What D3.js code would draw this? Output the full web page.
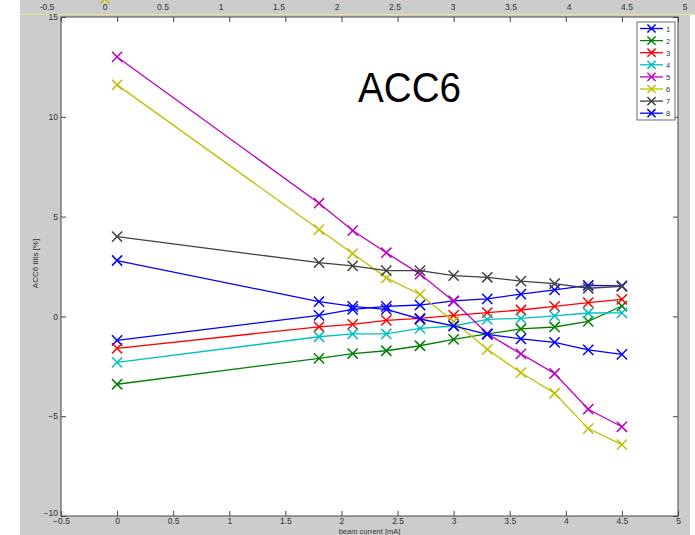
<!DOCTYPE html>
<html>
<head>
<meta charset="utf-8">
<script src="https://cdn.jsdelivr.net/npm/d3@7"></script>
<style>
  html, body { margin: 0; padding: 0; background: #ffffff; }
  svg { display: block; }
  text { font-family: "Liberation Sans", Arial, Helvetica, sans-serif; }
</style>
</head>
<body>
<svg id="chart" width="695" height="535"></svg>
<script>
// Beam current settings [mA]
const current = [0, 1.8, 2.1, 2.4, 2.7, 3.0, 3.3, 3.6, 3.9, 4.2, 4.5];

// ACC6 cavity tilts [%] per channel
const tilt1 = [-1.2, 0.05, 0.35, 0.5, 0.57, 0.78, 0.88, 1.12, 1.33, 1.55, 1.53];
const tilt2 = [-3.4, -2.1, -1.86, -1.72, -1.47, -1.15, -0.88, -0.63, -0.53, -0.25, 0.52];
const tilt3 = [-1.6, -0.52, -0.4, -0.2, -0.1, 0.05, 0.19, 0.32, 0.5, 0.69, 0.85];
const tilt4 = [-2.3, -1.02, -0.88, -0.88, -0.6, -0.48, -0.15, -0.1, 0.03, 0.17, 0.18];
const tilt5 = [13.0, 5.67, 4.3, 3.19, 2.12, 0.76, -0.87, -1.88, -2.86, -4.65, -5.53];
const tilt6 = [11.6, 4.35, 3.15, 1.93, 1.1, -0.25, -1.65, -2.82, -3.85, -5.62, -6.42];
const tilt7 = [4.0, 2.69, 2.53, 2.29, 2.29, 2.04, 1.96, 1.77, 1.64, 1.41, 1.5];
const tilt8 = [2.8, 0.74, 0.5, 0.35, -0.13, -0.47, -0.9, -1.13, -1.3, -1.68, -1.9];

const seriesNames = ["1", "2", "3", "4", "5", "6", "7", "8"];
const seriesColors = ["#0000ff", "#008000", "#ff0000", "#00bfbf", "#bf00bf", "#bfbf00", "#404040", "#0000ff"];

const xTicks = [-0.5, 0, 0.5, 1, 1.5, 2, 2.5, 3, 3.5, 4, 4.5, 5];
const yTicks = [-10, -5, 0, 5, 10, 15];

const titleText = "ACC6";
const xLabel = "beam current [mA]";
const yLabel = "ACC6 tilts  [%]";

const series = [tilt1, tilt2, tilt3, tilt4, tilt5, tilt6, tilt7, tilt8].map((vals, i) => ({
  name: seriesNames[i],
  color: seriesColors[i],
  points: current.map((c, j) => ({ x: c, y: vals[j] }))
}));

const svg = d3.select("#chart");
const W = 695, H = 535;

// figure background
svg.append("rect").attr("x", 20).attr("y", 0).attr("width", 670).attr("height", H).attr("fill", "#cccccc");
svg.append("rect").attr("x", 20).attr("y", 0).attr("width", W - 20).attr("height", 14).attr("fill", "#cccccc");

// strip of the figure above: its lower axis labels
const xTop = d3.scaleLinear().domain([-0.5, 5]).range([47, 685]);
const topStrip = svg.append("g");
topStrip.selectAll("text.tl").data(xTicks).join("text")
  .attr("class", "tl")
  .attr("x", d => xTop(d)).attr("y", 10)
  .attr("text-anchor", "middle")
  .attr("font-size", 8.5).attr("fill", "#333")
  .text(d => d);
topStrip.append("path")
  .attr("d", d3.symbol(d3.symbolX, 60)())
  .attr("transform", `translate(${xTop(0)},-1)`)
  .attr("stroke", "#bfbf00").attr("stroke-width", 1.3).attr("fill", "none");
svg.append("line").attr("x1", 20).attr("x2", W).attr("y1", 14.5).attr("y2", 14.5)
  .attr("stroke", "#e6e68a").attr("stroke-width", 1);

// main axes
const m = { left: 61, right: 678, top: 17, bottom: 516 };
const x = d3.scaleLinear().domain([-0.5, 5]).range([m.left, m.right]);
const y = d3.scaleLinear().domain([-10, 15]).range([m.bottom, m.top]);

svg.append("rect")
  .attr("x", m.left).attr("y", m.top)
  .attr("width", m.right - m.left).attr("height", m.bottom - m.top)
  .attr("fill", "#ffffff");

const tickLen = 5;
const axisStyle = g => {
  g.select(".domain").remove();
  g.selectAll(".tick line").attr("stroke", "#444");
  g.selectAll(".tick text").attr("fill", "#333").attr("font-size", 8.5)
    .attr("font-family", "'Liberation Sans', Arial, sans-serif");
};

svg.append("g").attr("transform", `translate(0,${m.bottom})`)
  .call(d3.axisBottom(x).tickValues(xTicks).tickFormat(d3.format("")).tickSize(-tickLen).tickPadding(2))
  .call(axisStyle);
svg.append("g").attr("transform", `translate(0,${m.top})`)
  .call(d3.axisTop(x).tickValues(xTicks).tickFormat("").tickSize(-tickLen))
  .call(axisStyle);
const yAxisG = svg.append("g").attr("transform", `translate(${m.left},0)`)
  .call(d3.axisLeft(y).tickValues(yTicks).tickFormat(d3.format("")).tickSize(-tickLen).tickPadding(3))
  .call(axisStyle);
// lift the lowest label clear of the x labels in the corner
yAxisG.selectAll(".tick text").filter(d => d === -10).attr("dy", "-0.05em");
svg.append("g").attr("transform", `translate(${m.right},0)`)
  .call(d3.axisRight(y).tickValues(yTicks).tickFormat("").tickSize(-tickLen))
  .call(axisStyle);

svg.append("rect")
  .attr("x", m.left).attr("y", m.top)
  .attr("width", m.right - m.left).attr("height", m.bottom - m.top)
  .attr("fill", "none").attr("stroke", "#444").attr("stroke-width", 1);

// axis labels
svg.append("text").attr("x", (m.left + m.right) / 2).attr("y", 534)
  .attr("text-anchor", "middle").attr("font-size", 7.5).attr("fill", "#333").text(xLabel);
svg.append("text").attr("transform", `translate(38,${(m.top + m.bottom) / 2 - 3}) rotate(-90)`)
  .attr("text-anchor", "middle").attr("font-size", 8).attr("fill", "#333").text(yLabel);

// series lines and X markers
const line = d3.line().x(d => x(d.x)).y(d => y(d.y));
const marker = d3.symbol(d3.symbolX, 70);
const plot = svg.append("g");
series.forEach(s => {
  const g = plot.append("g");
  g.append("path").attr("d", line(s.points))
    .attr("fill", "none").attr("stroke", s.color).attr("stroke-width", 1.3);
  g.selectAll("path.mk").data(s.points).join("path")
    .attr("class", "mk")
    .attr("d", marker())
    .attr("transform", d => `translate(${x(d.x)},${y(d.y)})`)
    .attr("fill", "none").attr("stroke", s.color).attr("stroke-width", 1.5);
});

// title inside the axes
svg.append("text").attr("x", 358).attr("y", 102)
  .attr("font-size", 42).attr("fill", "#000")
  .attr("textLength", 103).attr("lengthAdjust", "spacingAndGlyphs")
  .text(titleText);

// legend
const lg = svg.append("g").attr("transform", "translate(637,22)");
lg.append("rect").attr("width", 38).attr("height", 98)
  .attr("fill", "#ffffff").attr("stroke", "#444").attr("stroke-width", 0.8);
const legendMarker = d3.symbol(d3.symbolX, 45);
series.forEach((s, i) => {
  const yy = 6.5 + i * 12.1;
  lg.append("line").attr("x1", 3).attr("x2", 26).attr("y1", yy).attr("y2", yy)
    .attr("stroke", s.color).attr("stroke-width", 1.3);
  lg.append("path").attr("d", legendMarker())
    .attr("transform", `translate(14.5,${yy})`)
    .attr("fill", "none").attr("stroke", s.color).attr("stroke-width", 1.5);
  lg.append("text").attr("x", 29).attr("y", yy + 3)
    .attr("font-size", 7.5).attr("fill", "#333").text(s.name);
});
</script>
</body>
</html>
